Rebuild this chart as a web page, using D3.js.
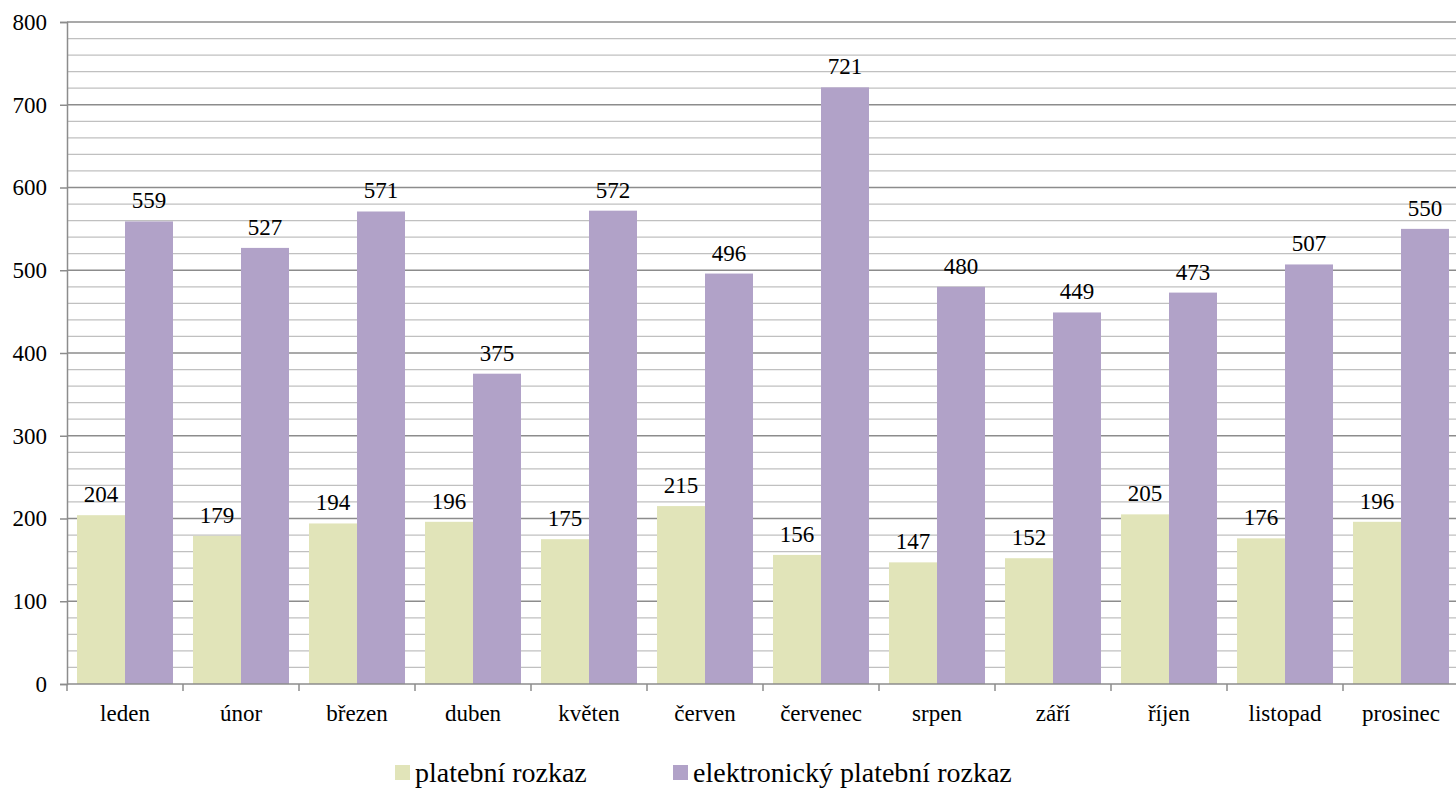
<!DOCTYPE html>
<html>
<head>
<meta charset="utf-8">
<script src="https://cdn.jsdelivr.net/npm/d3@7"></script>
<style>
  body { margin: 0; background: #fff; }
  svg text { font-family: "Liberation Serif", "DejaVu Serif", serif; }
</style>
</head>
<body>
<script>
var months = ["leden", "únor", "březen", "duben", "květen", "červen",
              "červenec", "srpen", "září", "říjen", "listopad", "prosinec"];
var seriesNames = ["platební rozkaz", "elektronický platební rozkaz"];
var platebni = [204, 179, 194, 196, 175, 215, 156, 147, 152, 205, 176, 196];
var elektronicky = [559, 527, 571, 375, 572, 496, 721, 480, 449, 473, 507, 550];
var colors = ["#e1e4b9", "#b1a2c8"];
var yTicks = [0, 100, 200, 300, 400, 500, 600, 700, 800];

var width = 1456, height = 790;
var plotLeft = 67, plotRight = 1459, plotTop = 22, plotBottom = 684;
var serif = "Liberation Serif";

var svg = d3.select("body").append("svg")
    .attr("width", width)
    .attr("height", height);

var y = d3.scaleLinear().domain([0, 800]).range([plotBottom, plotTop]);

var x0 = d3.scaleBand()
    .domain(months)
    .range([plotLeft, plotRight])
    .paddingInner(20 / 116)
    .paddingOuter(10 / 116);

var x1 = d3.scaleBand()
    .domain(seriesNames)
    .range([0, x0.bandwidth()]);

var step = x0.step();

// minor gridlines every 20
svg.append("g").selectAll("line")
    .data(d3.range(20, 801, 20).filter(function(v){ return v % 100 !== 0; }))
    .enter().append("line")
    .attr("x1", plotLeft).attr("x2", plotRight)
    .attr("y1", function(d){ return y(d); })
    .attr("y2", function(d){ return y(d); })
    .attr("stroke", "#c0c0c0")
    .attr("stroke-width", 1.2);

// major gridlines
svg.append("g").selectAll("line")
    .data(yTicks.slice(1))
    .enter().append("line")
    .attr("x1", plotLeft).attr("x2", plotRight)
    .attr("y1", function(d){ return y(d); })
    .attr("y2", function(d){ return y(d); })
    .attr("stroke", "#8c8c8c")
    .attr("stroke-width", 1.5);

var data = months.map(function(m, i){
    return { month: m, values: [platebni[i], elektronicky[i]] };
});

var groups = svg.append("g").selectAll("g")
    .data(data)
    .enter().append("g")
    .attr("transform", function(d){ return "translate(" + x0(d.month) + ",0)"; });

groups.selectAll("rect")
    .data(function(d){ return d.values.map(function(v, j){ return { name: seriesNames[j], value: v, j: j }; }); })
    .enter().append("rect")
    .attr("x", function(d){ return x1(d.name); })
    .attr("width", x1.bandwidth())
    .attr("y", function(d){ return y(d.value); })
    .attr("height", function(d){ return y(0) - y(d.value); })
    .attr("fill", function(d){ return colors[d.j]; });

groups.selectAll("text")
    .data(function(d){ return d.values.map(function(v, j){ return { name: seriesNames[j], value: v }; }); })
    .enter().append("text")
    .attr("x", function(d){ return x1(d.name) + x1.bandwidth() / 2; })
    .attr("y", function(d){ return y(d.value) - 13; })
    .attr("text-anchor", "middle")
    .attr("font-family", serif)
    .attr("font-size", 23)
    .attr("fill", "#000")
    .text(function(d){ return d.value; });

// y axis
var yAxis = svg.append("g")
    .attr("transform", "translate(" + plotLeft + ",0)")
    .call(d3.axisLeft(y).tickValues(yTicks).tickSize(7).tickPadding(13).tickFormat(d3.format("d")))
    .attr("font-family", serif)
    .attr("font-size", 23);
yAxis.select(".domain").attr("stroke", "#8c8c8c").attr("stroke-width", 1.5);
yAxis.selectAll(".tick line").attr("stroke", "#8c8c8c").attr("stroke-width", 1.5);
yAxis.selectAll(".tick text").attr("fill", "#000");

// x axis line, ticks at category boundaries
svg.append("line")
    .attr("x1", plotLeft).attr("x2", plotRight)
    .attr("y1", plotBottom).attr("y2", plotBottom)
    .attr("stroke", "#8c8c8c").attr("stroke-width", 1.5);

svg.append("g").selectAll("line")
    .data(d3.range(months.length + 1))
    .enter().append("line")
    .attr("x1", function(i){ return plotLeft + i * step; })
    .attr("x2", function(i){ return plotLeft + i * step; })
    .attr("y1", plotBottom).attr("y2", plotBottom + 7)
    .attr("stroke", "#8c8c8c").attr("stroke-width", 1.5);

svg.append("g").selectAll("text")
    .data(months)
    .enter().append("text")
    .attr("x", function(d){ return x0(d) + x0.bandwidth() / 2; })
    .attr("y", 721)
    .attr("text-anchor", "middle")
    .attr("font-family", serif)
    .attr("font-size", 23)
    .text(function(d){ return d; });

// legend
var legendX = [395, 673];
var legend = svg.append("g").selectAll("g")
    .data(seriesNames)
    .enter().append("g")
    .attr("transform", function(d, i){ return "translate(" + legendX[i] + ",765)"; });

legend.append("rect")
    .attr("width", 15).attr("height", 15)
    .attr("fill", function(d, i){ return colors[i]; });

legend.append("text")
    .attr("x", 20)
    .attr("y", 17)
    .attr("font-family", serif)
    .attr("font-size", 28)
    .text(function(d){ return d; });
</script>
</body>
</html>
